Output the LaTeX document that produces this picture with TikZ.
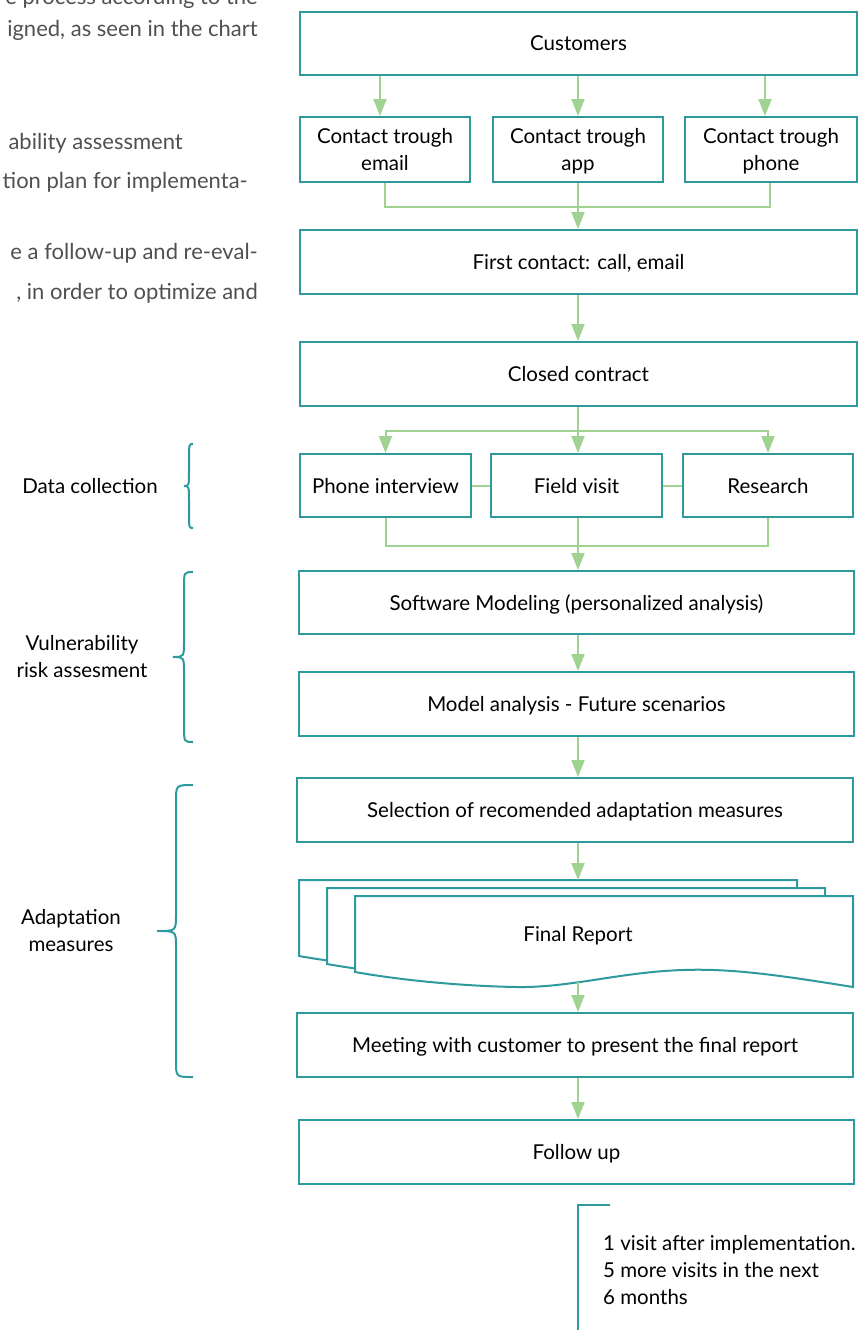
\documentclass[tikz,border=0pt]{standalone}
\usepackage{fontspec}
\setmainfont{Lato}
\usetikzlibrary{arrows.meta}
\definecolor{tealc}{RGB}{46,154,158}
\definecolor{greenc}{RGB}{160,210,145}
\definecolor{grayt}{RGB}{80,80,80}
\newcommand{\mybrace}[4]{% top, bottom, vertical x, tip x
  \draw[brc] (193,#1) .. controls (#3,#1) .. (#3,{#1+16}) -- (#3,{(#1+#2)/2-16})
    .. controls (#3,{(#1+#2)/2}) .. (#4,{(#1+#2)/2})
    .. controls (#3,{(#1+#2)/2}) .. (#3,{(#1+#2)/2+16}) -- (#3,{#2-16})
    .. controls (#3,#2) .. (193,#2);}
\begin{document}
\begin{tikzpicture}[x=1pt,y=-1pt,
  box/.style={draw=tealc,line width=2pt,fill=white,align=center,font=\fontsize{20.5}{27}\selectfont,inner sep=0pt,text depth=0pt},
  ln/.style={draw=greenc,line width=2pt},
  arr/.style={draw=greenc,line width=2pt,-{Triangle[width=13pt,length=17pt]}},
  brc/.style={draw=tealc,line width=2pt},
  doc/.style={draw=tealc,line width=2pt,fill=white},
  lbl/.style={align=center,font=\fontsize{20.5}{27}\selectfont,inner sep=0pt},
  para/.style={anchor=east,text=grayt,font=\fontsize{22}{26}\selectfont,inner sep=0pt}]
\useasboundingbox (0,0) rectangle (861,1330);
\clip (0,0) rectangle (861,1330);

% paragraph text at top left
\node[para] (p1) at (258,-2) {e process according to the};
\node[para] (p2) at (258,30) {igned, as seen in the chart};
\node[para] (p3) at (183,143) {ability assessment};
\node[para] (p4) at (248,182) {tion plan for implementa-};
\node[para] (p5) at (258,253) {e a follow-up and re-eval-};
\node[para] (p6) at (258,293) {, in order to optimize and};

% boxes
\node[box,minimum width=557pt,minimum height=63pt] (cust) at (578.5,43.5) {Customers};
\node[box,minimum width=170pt,minimum height=65pt] (email) at (385,149.5) {Contact trough\\email};
\node[box,minimum width=170pt,minimum height=65pt] (app) at (578,149.5) {Contact trough\\app};
\node[box,minimum width=172pt,minimum height=65pt] (phone) at (771,149.5) {Contact trough\\phone};
\node[box,minimum width=557pt,minimum height=64pt] (first) at (578.5,262) {First contact: call, email};
\node[box,minimum width=557pt,minimum height=64pt] (closed) at (578.5,374) {Closed contract};
\node[box,minimum width=171pt,minimum height=63pt] (pi) at (385.5,485.5) {Phone interview};
\node[box,minimum width=171pt,minimum height=63pt] (fv) at (576.5,485.5) {Field visit};
\node[box,minimum width=170pt,minimum height=63pt] (rs) at (768,485.5) {Research};
\node[box,minimum width=555pt,minimum height=63pt] (sw) at (576.5,602.5) {Software Modeling (personalized analysis)};
\node[box,minimum width=555pt,minimum height=64pt] (ma) at (576.5,704) {Model analysis - Future scenarios};
\node[box,minimum width=556pt,minimum height=64pt] (sel) at (575,810) {Selection of recomended adaptation measures};
\node[box,minimum width=556pt,minimum height=64pt] (meet) at (575,1045) {Meeting with customer to present the final report};
\node[box,minimum width=555pt,minimum height=64pt] (fu) at (576.5,1152) {Follow up};

% multi-document
\foreach \dx/\dy in {-56/-16,-28/-8,0/0}{
  \begin{scope}[shift={(\dx,\dy)}]
  \draw[doc] (355,972) -- (355,896) -- (853,896) -- (853,987)
    .. controls (790,977) and (735,968) .. (683,970)
    .. controls (620,972) and (570,988) .. (516,987)
    .. controls (460,986) and (400,980) .. (355,972) -- cycle;
  \end{scope}}
\coordinate (doctop) at (578,880);
\coordinate (docbot) at (578,982);
\node[lbl] (rep) at (578,936) {Final Report};

% connectors
\draw[arr] (cust.south -| 380,0) -- (email.north -| 380,0);
\draw[arr] (cust.south -| 578,0) -- (app.north -| 578,0);
\draw[arr] (cust.south -| 765,0) -- (phone.north -| 765,0);
\draw[ln] (email.south) -- ++(0,24) -| (phone.south -| 770,0);
\draw[arr] (app.south) -- (first.north -| app.south);
\draw[arr] (first.south -| 578,0) -- (closed.north -| 578,0);
\draw[arr] (closed.south -| 578,0) -- ++(0,24) -| (pi.north);
\draw[arr] (closed.south -| 578,0) -- ++(0,24) -| (rs.north);
\draw[arr] (closed.south -| 578,0) -- (fv.north -| 578,0);
\draw[ln] (pi.east) -- (fv.west);
\draw[ln] (fv.east) -- (rs.west);
\draw[ln] (pi.south) -- ++(0,28) -| (rs.south);
\draw[arr] (fv.south -| 578,0) -- (sw.north -| 578,0);
\draw[arr] (sw.south -| 578,0) -- (ma.north -| 578,0);
\draw[arr] (ma.south -| 578,0) -- (sel.north -| 578,0);
\draw[arr] (sel.south -| 578,0) -- (doctop);
\draw[arr] (docbot) -- (meet.north -| 578,0);
\draw[arr] (meet.south -| 578,0) -- (fu.north -| 578,0);

% follow-up note
\coordinate (nb) at (578,1205);
\draw[brc] (610,1205) -- (nb) -- (578,1332);
\node[anchor=west,align=left,inner sep=0pt,font=\fontsize{20.5}{27}\selectfont] (note) at (603,1270) {1 visit after implementation.\\5 more visits in the next\\6 months};

% braces and labels
\mybrace{444}{528}{189}{184}
\mybrace{572}{742}{184}{173}
\mybrace{785}{1077}{176}{157}
\node[lbl] (l1) at (90,486) {Data collection};
\node[lbl] (l2) at (82,657) {Vulnerability\\risk assesment};
\node[lbl] (l3) at (71,931) {Adaptation\\measures};
\end{tikzpicture}
\end{document}
